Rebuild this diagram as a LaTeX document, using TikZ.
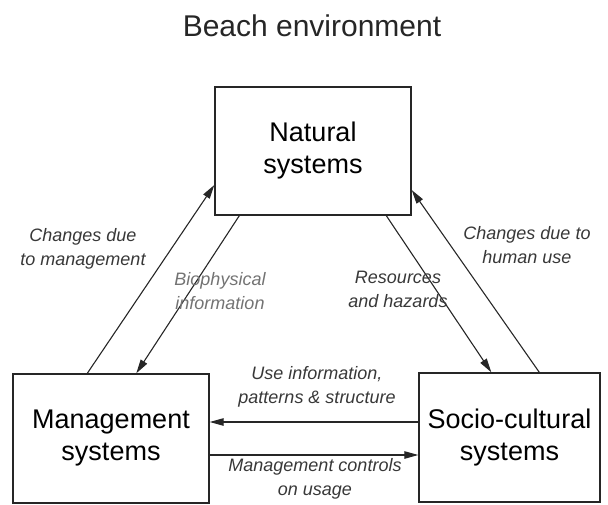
\documentclass[tikz,border=0pt]{standalone}
\usepackage{fontspec}
\setmainfont{Liberation Sans}
\usetikzlibrary{arrows.meta,calc}
\begin{document}
\begin{tikzpicture}
		[x=1pt,y=-1pt,
		box/.style={rectangle,draw=black!85,line width=1.4pt,inner sep=0pt,align=center,
			font=\fontsize{27}{32}\selectfont},
		lbl/.style={draw=none,fill=none,align=center,text=black!78,
			font=\itshape\fontsize{18}{24}\selectfont},
		link/.style={line width=1.1pt,draw=black!85,-{Triangle[length=14pt,width=7.5pt]}}
		]
		\useasboundingbox (0,0) rectangle (608,505);
		\node[font=\fontsize{30}{34}\selectfont,text=black!85] (title) at (312,26){Beach environment};
		% the three systems
		\node[box,minimum width=196pt,minimum height=128pt] (natural) at (313,151){Natural\\systems};
		\node[box,minimum width=196pt,minimum height=129pt] (mgmt) at (111,438.5){Management\\systems};
		\node[box,minimum width=181pt,minimum height=129pt] (socio) at (509.5,437.5){Socio-cultural\\systems};

		\draw[link] ($(mgmt.north west)+(75,0)$) -- ($(natural.west)+(0,34)$);
		\draw[link] ($(natural.south west)+(25,0)$) -- ($(mgmt.north west)+(124,0)$);
		\draw[link] ($(natural.south west)+(172,0)$) -- ($(socio.north west)+(73,0)$);
		\draw[link] ($(socio.north west)+(121,0)$) -- ($(natural.east)+(0,39)$);
		\draw[link] ($(socio.west)+(0,-15.5)$) -- ($(mgmt.east)+(0,-16.5)$);
		\draw[link] ($(mgmt.east)+(0,16.5)$) -- ($(socio.west)+(0,17.5)$);

\node[lbl] (chmgmt) at (83,249){Changes due\\to management};
\node[lbl,text=black!55] (bio) at (220,291){Biophysical\\information};
\node[lbl] (res) at (398,289){Resources\\and hazards};
\node[lbl] (chuse) at (527,245){Changes due to\\human use};
\node[lbl] (useinfo) at (317,387){Use information,\\patterns \& structure};
\node[lbl] (controls) at (315,479){Management controls\\on usage};
	\end{tikzpicture}
\end{document}
